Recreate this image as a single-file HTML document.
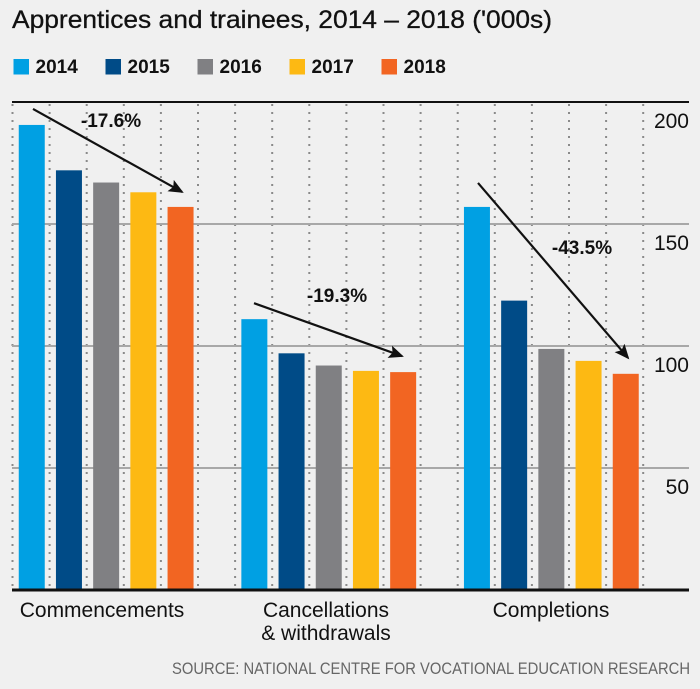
<!DOCTYPE html>
<html><head><meta charset="utf-8"><style>
html,body{margin:0;padding:0;background:#f0f0f0;}
svg{display:block;font-family:"Liberation Sans Narrow","Liberation Sans",sans-serif;}
</style></head><body>
<svg id="chart" width="700" height="689" viewBox="0 0 700 689" xmlns="http://www.w3.org/2000/svg">
<defs>
<marker id="ah" markerWidth="16" markerHeight="14" refX="13" refY="6.5" orient="auto" markerUnits="userSpaceOnUse">
<path d="M0,0 L15,6.5 L0,13 L3,6.5 Z" fill="#111"/>
</marker>
</defs>
<rect x="0" y="0" width="700" height="689" fill="#f0f0f0"/>
<text x="12" y="28" font-size="25" fill="#111" stroke="#111" stroke-width="0.3" textLength="540" lengthAdjust="spacingAndGlyphs">Apprentices and trainees, 2014 – 2018 ('000s)</text>
<g id="legend"></g>
<g id="grid"></g>
<g id="bars"></g>
<g id="annot"></g>
<g id="axes"></g>
<text x="690" y="674" font-size="17" fill="#666" text-anchor="end" textLength="518" lengthAdjust="spacingAndGlyphs">SOURCE: NATIONAL CENTRE FOR VOCATIONAL EDUCATION RESEARCH</text>
</svg>
<script>
const categories = ["Commencements", "Cancellations\n& withdrawals", "Completions"];
const years = ["2014", "2015", "2016", "2017", "2018"];
const s2014 = [190.6, 111, 157];
const s2015 = [172, 97, 118.6];
const s2016 = [167, 92, 98.8];
const s2017 = [163, 89.8, 93.9];
const s2018 = [157, 89.3, 88.6];
const yTicks = [50, 100, 150, 200];
const changeLabels = ["-17.6%", "-19.3%", "-43.5%"];

const series = [s2014, s2015, s2016, s2017, s2018];
const colors = ["#00a0e3", "#004b87", "#808083", "#fdb913", "#f26522"];
const NS = "http://www.w3.org/2000/svg";
function mk(tag, attrs, parent) { const e = document.createElementNS(NS, tag); for (const k in attrs) e.setAttribute(k, attrs[k]); parent.appendChild(e); return e; }
function yScale(v) { return 590 - v * 2.44; }
function barX(g, i) { return 18.75 + g * 222.6 + i * 37.2; }
const BW = 26;

const lg = document.getElementById('legend');
years.forEach((y, i) => {
  const x = 13.5 + i * 92;
  const r = mk('rect', {x: x, y: 59, width: 15.5, height: 15.5, fill: colors[i]}, lg);
  
  
  const t = mk('text', {x: x + 22, y: 73, 'font-size': 19, 'font-weight': 'bold', fill: '#111'}, lg);
  t.textContent = y;
  
  
});

const gr = document.getElementById('grid');
for (let k = 0; k < 18; k++) {
  const x = 12.5 + k * 37.1;
  const l = mk('line', {x1: x, x2: x, y1: 104, y2: 588, stroke: '#8a8a8a', 'stroke-width': 2, 'stroke-dasharray': '2 6'}, gr);
  
  
}
yTicks.forEach(v => {
  const y = yScale(v);
  const l = mk('line', {x1: 12, x2: 689, y1: y, y2: y, stroke: v === 200 ? '#111' : '#a8a8a8', 'stroke-width': 2}, gr);
  
  
  const t = mk('text', {x: 689, y: y + 26, 'font-size': 21, fill: '#111', 'text-anchor': 'end'}, gr);
  t.textContent = v;
  
  
});

const bg = document.getElementById('bars');
categories.forEach((c, g) => {
  series.forEach((s, i) => {
    const y = yScale(s[g]);
    const r = mk('rect', {x: barX(g, i), y: y, width: BW, height: 590 - y, fill: colors[i]}, bg);
    
    
  });
});

const an = document.getElementById('annot');
const arrowDefs = [
  {x1: 33, dy1: -16, x2: 182, dy2: -15, lx: 111, ly: 127},
  {x1: 254, dy1: -16, x2: 402, dy2: -16, lx: 337, ly: 302},
  {x1: 478, dy1: -24, x2: 628, dy2: -16, lx: 582, ly: 254}
];
categories.forEach((c, g) => {
  const a = arrowDefs[g];
  const ax = mk('line', {x1: a.x1, y1: yScale(s2014[g]) + a.dy1, x2: a.x2, y2: yScale(s2018[g]) + a.dy2, stroke: '#111', 'stroke-width': 2.2, 'marker-end': 'url(#ah)'}, an);
  
  
  const t = mk('text', {x: a.lx, y: a.ly, 'font-size': 19, 'font-weight': 'bold', fill: '#111', 'text-anchor': 'middle'}, an);
  t.textContent = changeLabels[g];
  
  
});

const axg = document.getElementById('axes');
const base = mk('line', {x1: 12, x2: 689, y1: 590, y2: 590, stroke: '#111', 'stroke-width': 3}, axg);


const catCenters = [102, 326, 551];
categories.forEach((c, g) => {
  const lines = c.split('\n');
  lines.forEach((ln, j) => {
    const t = mk('text', {x: catCenters[g], y: 617 + j * 23, 'font-size': 21, fill: '#111', 'text-anchor': 'middle'}, axg);
    t.textContent = ln;
    
    
  });
});
</script>
</body></html>
